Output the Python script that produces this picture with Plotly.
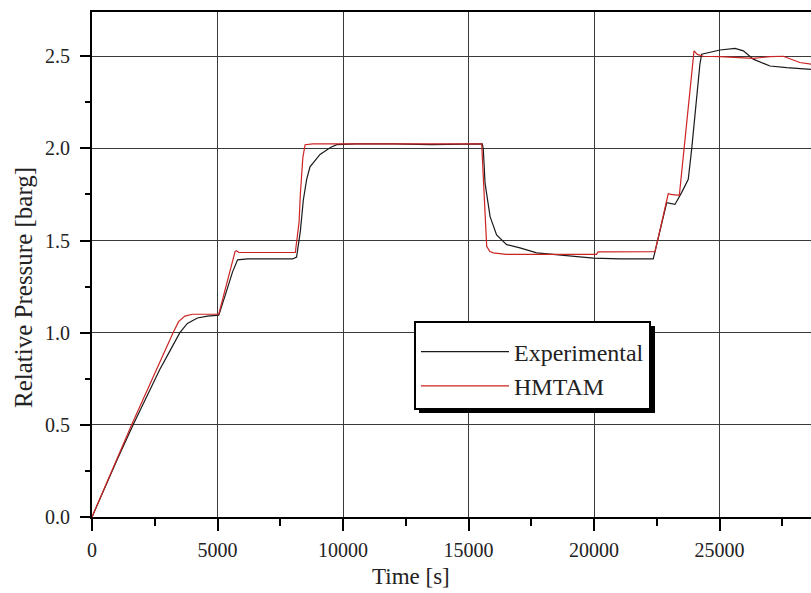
import plotly.graph_objects as go

# ---- data ----
exp_time = [0, 500, 1000, 1640, 2200, 2700, 3100, 3500, 3800, 4200, 4600, 5050,
            5300, 5600, 5800, 6200, 7000, 8000, 8150, 8300, 8420, 8550, 8685,
            9085, 9500, 9750, 10500, 12000, 13500, 15000, 15550, 15590, 15660,
            15860, 16120, 16520, 17050, 17715, 18780, 19975, 21035, 22360,
            22895, 23225, 23490, 23755, 23890, 24220, 24290, 24620, 25020,
            25620, 25950, 26345, 27010, 27675, 28645]
exp_p = [0.0, 0.16, 0.31, 0.50, 0.66, 0.80, 0.90, 1.00, 1.05, 1.08, 1.09, 1.095,
         1.20, 1.33, 1.395, 1.40, 1.40, 1.40, 1.41, 1.55, 1.72, 1.83, 1.90,
         1.967, 2.005, 2.02, 2.025, 2.025, 2.02, 2.025, 2.025, 1.995, 1.81,
         1.63, 1.53, 1.478, 1.46, 1.433, 1.42, 1.405, 1.40, 1.40,
         1.705, 1.696, 1.76, 1.832, 1.995, 2.457, 2.511, 2.52, 2.534,
         2.543, 2.529, 2.484, 2.447, 2.438, 2.429]

hm_time = [0, 1580, 3230, 3450, 3700, 4000, 5050, 5700, 5750, 5850, 8100, 8250,
           8300, 8400, 8490, 8800, 15525, 15600, 15725, 15850, 15990, 16500,
           20100, 20160, 22430, 22960, 23050, 23400, 23985, 24115, 24355,
           25020, 26345, 27010, 27540, 28200, 28645]
hm_p = [0.0, 0.50, 1.00, 1.06, 1.09, 1.10, 1.10, 1.44, 1.445, 1.435, 1.435, 1.60,
        1.75, 1.95, 2.02, 2.025, 2.025, 1.80, 1.469, 1.44, 1.433, 1.425,
        1.425, 1.439, 1.44, 1.755, 1.75, 1.745, 2.529, 2.51, 2.50,
        2.498, 2.488, 2.498, 2.50, 2.466, 2.457]

x_ticks = [0, 5000, 10000, 15000, 20000, 25000]
y_ticks = [0.0, 0.5, 1.0, 1.5, 2.0, 2.5]
y_tick_text = ["0.0", "0.5", "1.0", "1.5", "2.0", "2.5"]

FONT = "Liberation Serif"
W, H = 811, 593
L, R, T, B = 92, 0, 12, 76
pw, ph = W - L - R, H - T - B

def px(xp):
    return (xp - L) / pw

def py(yp):
    return (H - B - yp) / ph

fig = go.Figure()
fig.add_trace(go.Scatter(x=exp_time, y=exp_p, mode="lines", name="Experimental",
                         line=dict(color="#1a1a1a", width=1.2)))
fig.add_trace(go.Scatter(x=hm_time, y=hm_p, mode="lines", name="HMTAM",
                         line=dict(color="rgb(205,35,35)", width=1.2)))

# legend shadow
fig.add_shape(type="rect", xref="paper", yref="paper",
              x0=px(419), x1=px(655), y0=py(413), y1=py(326),
              fillcolor="black", line=dict(width=0), layer="above")

fig.update_layout(
    width=W, height=H, autosize=False,
    margin=dict(l=L, r=R, t=T, b=B),
    paper_bgcolor="white", plot_bgcolor="white",
    font=dict(family=FONT, color="#222", size=20),
    showlegend=True,
    legend=dict(x=px(414), y=py(321), xanchor="left", yanchor="top",
                bgcolor="white", bordercolor="black", borderwidth=2,
                font=dict(family=FONT, size=24, color="#222"),
                itemwidth=88, tracegroupgap=0,
                title=dict(text=" ", font=dict(size=5))),
    xaxis=dict(range=[0, (W - L) / 125.5 * 5000], tickvals=x_ticks,
               ticktext=[str(v) for v in x_ticks],
               showgrid=True, gridcolor="#3a3a3a", gridwidth=1,
               showline=True, linecolor="black", linewidth=2, mirror=True,
               ticks="outside", ticklen=12, tickwidth=1.5, tickcolor="black",
               ticklabelstandoff=2,
               minor=dict(dtick=2500, ticks="outside", ticklen=7, tickwidth=1.5,
                          tickcolor="black", showgrid=False),
               zeroline=False, tickfont=dict(size=20, family=FONT)),
    yaxis=dict(range=[0, 2.74], tickvals=y_ticks, ticktext=y_tick_text,
               showgrid=True, gridcolor="#3a3a3a", gridwidth=1,
               showline=True, linecolor="black", linewidth=2, mirror=False,
               ticks="outside", ticklen=10, tickwidth=1.5, tickcolor="black",
               ticklabelstandoff=6,
               minor=dict(dtick=0.25, ticks="outside", ticklen=5, tickwidth=1.5,
                          tickcolor="black", showgrid=False),
               zeroline=False, tickfont=dict(size=20, family=FONT)),
)

fig.add_annotation(text="Time [s]", xref="paper", yref="paper",
                   x=px(411), y=py(576), xanchor="center", yanchor="middle",
                   showarrow=False, font=dict(size=23, family=FONT, color="#222"))
fig.add_annotation(text="Relative Pressure [barg]", xref="paper", yref="paper",
                   x=px(23), y=py(288), xanchor="center", yanchor="middle",
                   textangle=-90, showarrow=False,
                   font=dict(size=25, family=FONT, color="#222"))

fig.write_html("out.html")
